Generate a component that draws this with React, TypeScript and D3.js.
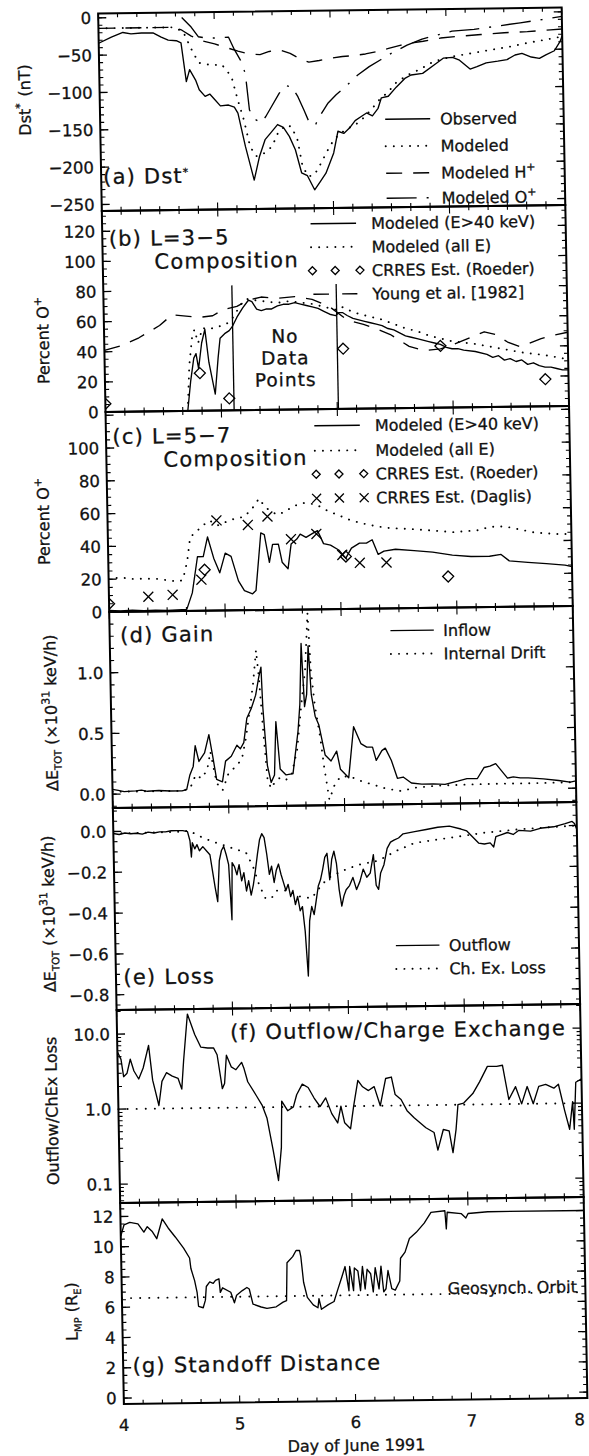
import * as d3 from "d3";

type Pt = [number, number];

// ---------------- data: [day of June 1991, value] ----------------
const dayTicks = [4, 5, 6, 7, 8];

// (a) Dst*
const dstTicks = [0, -50, -100, -150, -200, -250];
const dstObserved: Pt[] = [
  [4.0, -34], [4.11, -26], [4.21, -20], [4.28, -22], [4.37, -21], [4.47, -21], [4.54, -27], [4.6, -31],
  [4.67, -32], [4.71, -35], [4.75, -87], [4.78, -71], [4.83, -85], [4.86, -98], [4.91, -107], [4.95, -104],
  [4.99, -111], [5.04, -120], [5.11, -119], [5.16, -122], [5.19, -130], [5.25, -175], [5.32, -220],
  [5.37, -188], [5.42, -166], [5.47, -157], [5.53, -146], [5.58, -150], [5.63, -162], [5.68, -180],
  [5.73, -211], [5.78, -215], [5.84, -234], [5.89, -223], [5.94, -212], [6.01, -185], [6.05, -156],
  [6.1, -159], [6.15, -152], [6.2, -142], [6.25, -137], [6.3, -132], [6.35, -136], [6.4, -126],
  [6.43, -112], [6.49, -110], [6.56, -98], [6.64, -86], [6.69, -82], [6.79, -80], [6.89, -69], [6.97, -60],
  [7.05, -59], [7.11, -63], [7.2, -75], [7.26, -72], [7.34, -67], [7.44, -65], [7.52, -63], [7.59, -57],
  [7.65, -55], [7.73, -60], [7.8, -62], [7.86, -57], [7.93, -52], [7.98, -40], [8.0, -32],
];
const dstModeled: Pt[] = [
  [4.0, -14], [4.65, -14], [4.73, -20], [4.8, -44], [4.86, -62], [4.96, -65], [5.06, -65], [5.14, -81],
  [5.19, -112], [5.24, -139], [5.29, -175], [5.34, -188], [5.39, -186], [5.43, -182], [5.48, -175],
  [5.53, -158], [5.6, -147], [5.65, -149], [5.7, -167], [5.74, -203], [5.79, -216], [5.84, -214],
  [5.89, -201], [5.96, -181], [6.01, -168], [6.07, -159], [6.14, -152], [6.2, -148], [6.27, -139],
  [6.35, -126], [6.41, -115], [6.49, -104], [6.56, -92], [6.66, -82], [6.76, -75], [6.89, -64],
  [7.05, -58], [7.21, -54], [7.37, -50], [7.54, -46], [7.7, -41], [7.86, -37], [8.0, -33],
];
const dstModeledH: Pt[] = [
  [4.0, -14], [4.65, -14], [4.72, -18], [4.8, -26], [4.9, -33], [5.0, -37], [5.1, -42], [5.2, -47],
  [5.3, -51], [5.39, -52], [5.47, -48], [5.56, -46], [5.65, -51], [5.73, -58], [5.81, -63], [5.9, -61],
  [6.0, -58], [6.1, -56], [6.2, -55], [6.3, -53], [6.4, -50], [6.5, -46], [6.6, -42], [6.7, -39],
  [6.8, -37], [6.95, -33], [7.1, -31], [7.3, -29], [7.5, -27], [7.7, -26], [7.9, -24], [8.0, -23],
];
const dstModeledO: Pt[] = [
  [4.72, -1], [4.8, -14], [4.86, -27], [4.93, -29], [5.0, -29], [5.12, -28], [5.17, -45], [5.22, -59],
  [5.26, -77], [5.29, -126], [5.34, -139], [5.39, -143], [5.43, -135], [5.48, -122], [5.55, -104],
  [5.61, -94], [5.66, -96], [5.71, -109], [5.76, -127], [5.81, -146], [5.86, -146], [5.91, -132],
  [5.97, -118], [6.04, -107], [6.14, -94], [6.23, -81], [6.33, -70], [6.43, -61], [6.53, -52],
  [6.66, -42], [6.79, -34], [6.92, -29], [7.05, -24], [7.24, -22], [7.44, -18], [7.64, -14],
  [7.83, -10], [8.0, -6],
];

// (b) L=3-5 composition, percent O+
const pctTicksB = [0, 20, 40, 60, 80, 100, 120];
const noDataDays = [5.11, 6.01];
const bModeled40: Pt[] = [
  [4.0, 0], [4.71, 0], [4.74, 20], [4.77, 35], [4.79, 38], [4.81, 28], [4.84, 45], [4.87, 54], [4.9, 32],
  [4.95, 11], [4.98, 35], [5.0, 48], [5.04, 51], [5.08, 53], [5.11, 56], [5.15, 62], [5.2, 68], [5.25, 73],
  [5.28, 72], [5.32, 67], [5.36, 66], [5.4, 67], [5.45, 67], [5.5, 69], [5.55, 70], [5.6, 70], [5.65, 71],
  [5.7, 70], [5.75, 69], [5.8, 68], [5.85, 67], [5.9, 65], [5.95, 63], [6.0, 62], [6.03, 64], [6.06, 64],
  [6.1, 62], [6.15, 60], [6.2, 59], [6.25, 58], [6.3, 57], [6.35, 56], [6.4, 55], [6.45, 53], [6.5, 52],
  [6.55, 50], [6.6, 48], [6.65, 47], [6.7, 46], [6.75, 45], [6.8, 44], [6.85, 43], [6.9, 42], [6.95, 40],
  [7.0, 39], [7.05, 39], [7.1, 38], [7.2, 37], [7.3, 35], [7.35, 33], [7.4, 34], [7.45, 31], [7.5, 32],
  [7.55, 30], [7.6, 31], [7.65, 28], [7.7, 29], [7.75, 27], [7.8, 26], [7.85, 26], [7.9, 25], [7.95, 24],
  [8.0, 24],
];
const bModeledAll: Pt[] = [
  [4.71, 0], [4.73, 30], [4.76, 50], [4.78, 54], [4.81, 45], [4.85, 55], [4.9, 54], [4.95, 55], [5.0, 56],
  [5.05, 57], [5.1, 60], [5.15, 66], [5.2, 72], [5.25, 74], [5.3, 73], [5.4, 72], [5.5, 71], [5.6, 72],
  [5.7, 71], [5.8, 70], [5.9, 68], [6.0, 66], [6.05, 68], [6.1, 66], [6.2, 63], [6.3, 61], [6.4, 59],
  [6.5, 56], [6.6, 53], [6.7, 51], [6.8, 48], [6.9, 46], [7.0, 44], [7.2, 42], [7.4, 39], [7.6, 36],
  [7.8, 34], [8.0, 31],
];
const bRoeder: Pt[] = [[4.0, 5.5], [4.82, 25], [5.07, 8], [6.06, 40], [6.9, 41], [7.8, 18]];
const bYoung: Pt[] = [
  [4.0, 41], [4.15, 44], [4.3, 49], [4.48, 57], [4.59, 64], [4.71, 63], [4.82, 62], [4.94, 63], [5.03, 67],
  [5.15, 69], [5.25, 73], [5.36, 75], [5.5, 74], [5.65, 75], [5.8, 73], [5.95, 68], [6.1, 59], [6.24, 56],
  [6.35, 53], [6.47, 49], [6.63, 41], [6.76, 38], [6.9, 39], [7.02, 42], [7.18, 47], [7.28, 50], [7.38, 48],
  [7.48, 43], [7.58, 40], [7.67, 42], [7.77, 45], [7.87, 47], [8.0, 49],
];

// (c) L=5-7 composition
const pctTicksC = [0, 20, 40, 60, 80, 100];
const cModeled40: Pt[] = [
  [4.0, 1], [4.1, 0.5], [4.2, 1], [4.3, 0.5], [4.4, 0.8], [4.5, 0.5], [4.67, 1], [4.72, 11], [4.77, 33],
  [4.82, 33], [4.86, 45], [4.91, 32], [4.96, 23], [5.01, 35], [5.06, 33], [5.12, 18], [5.17, 12], [5.24, 10],
  [5.27, 12], [5.32, 47], [5.35, 46], [5.39, 29], [5.42, 40], [5.47, 40], [5.5, 29], [5.55, 25], [5.58, 40],
  [5.63, 43], [5.66, 46], [5.71, 44], [5.76, 46], [5.81, 48], [5.86, 40], [5.92, 39], [5.99, 36], [6.05, 31],
  [6.1, 37], [6.17, 40], [6.23, 40], [6.28, 42], [6.33, 33], [6.38, 35], [6.48, 36], [6.64, 35], [6.8, 34],
  [6.97, 32], [7.13, 31], [7.29, 31], [7.39, 32], [7.46, 28], [7.62, 27], [7.78, 26], [7.94, 25], [8.0, 24],
];
const cModeledAll: Pt[] = [
  [4.0, 20], [4.1, 21], [4.2, 20], [4.3, 20], [4.4, 20], [4.5, 19], [4.6, 18], [4.64, 19], [4.68, 30],
  [4.71, 45], [4.76, 48], [4.82, 52], [4.88, 55], [4.95, 52], [5.02, 54], [5.1, 56], [5.18, 57], [5.25, 62],
  [5.31, 68], [5.36, 63], [5.41, 60], [5.47, 58], [5.54, 60], [5.6, 63], [5.7, 65], [5.8, 64], [5.9, 60],
  [6.0, 57], [6.1, 54], [6.2, 52], [6.33, 50], [6.43, 49], [6.66, 48], [6.98, 46], [7.2, 47], [7.3, 49],
  [7.43, 49], [7.56, 47], [7.69, 45], [7.88, 44], [8.0, 44],
];
const cRoeder: Pt[] = [[4.0, 5], [4.83, 25], [6.05, 32], [6.93, 19]];
const cDaglis: Pt[] = [
  [4.34, 9], [4.55, 10], [4.8, 19], [4.94, 55], [5.21, 52], [5.38, 57], [5.58, 43], [5.8, 46], [6.02, 33],
  [6.17, 28], [6.4, 28],
];

// (d) Gain, x10^31 keV/h
const gainTicks = [0, 0.5, 1.0];
const gainInflow: Pt[] = [
  [4.0, 0.04], [4.05, 0.03], [4.1, 0.02], [4.2, 0.025], [4.25, 0.03], [4.3, 0.02], [4.4, 0.025], [4.5, 0.02],
  [4.6, 0.02], [4.64, 0.03], [4.67, 0.15], [4.7, 0.22], [4.72, 0.39], [4.75, 0.26], [4.8, 0.33], [4.84, 0.48],
  [4.87, 0.3], [4.9, 0.11], [4.95, 0.09], [4.98, 0.26], [5.03, 0.3], [5.08, 0.39], [5.11, 0.36], [5.14, 0.41],
  [5.17, 0.61], [5.21, 0.69], [5.25, 0.8], [5.28, 0.95], [5.3, 1.03], [5.31, 0.7], [5.34, 0.22], [5.37, 0.08],
  [5.4, 0.14], [5.42, 0.58], [5.45, 0.19], [5.5, 0.14], [5.56, 0.15], [5.61, 0.5], [5.63, 0.72], [5.65, 1.22],
  [5.67, 0.7], [5.69, 0.8], [5.71, 1.2], [5.73, 0.8], [5.76, 0.62], [5.79, 0.55], [5.84, 0.3], [5.89, 0.25],
  [5.94, 0.33], [5.97, 0.18], [6.04, 0.11], [6.09, 0.53], [6.15, 0.39], [6.2, 0.36], [6.25, 0.36],
  [6.28, 0.25], [6.33, 0.33], [6.36, 0.35], [6.41, 0.25], [6.46, 0.1], [6.51, 0.11], [6.58, 0.06],
  [6.67, 0.05], [6.77, 0.05], [6.87, 0.045], [6.98, 0.07], [7.06, 0.09], [7.15, 0.09], [7.21, 0.18],
  [7.26, 0.19], [7.31, 0.21], [7.36, 0.15], [7.41, 0.09], [7.46, 0.1], [7.52, 0.09], [7.59, 0.09],
  [7.72, 0.08], [7.85, 0.065], [7.95, 0.05], [8.0, 0.06],
];
const gainDrift: Pt[] = [
  [4.0, 0.02], [4.6, 0.02], [4.67, 0.04], [4.72, 0.15], [4.77, 0.12], [4.82, 0.19], [4.85, 0.34], [4.9, 0.08],
  [4.95, 0.02], [5.0, 0.15], [5.08, 0.23], [5.12, 0.27], [5.16, 0.45], [5.2, 0.7], [5.23, 0.9], [5.26, 1.17],
  [5.28, 0.95], [5.31, 0.5], [5.34, 0.1], [5.37, 0.03], [5.4, 0.08], [5.45, 0.12], [5.5, 0.1], [5.55, 0.15],
  [5.6, 0.35], [5.64, 0.7], [5.68, 1.0], [5.71, 1.47], [5.73, 1.0], [5.76, 0.7], [5.8, 0.45], [5.83, 0.2],
  [5.87, -0.07], [5.92, 0.06], [5.97, 0.12], [6.05, 0.12], [6.15, 0.08], [6.25, 0.05], [6.35, 0.02],
  [6.45, 0.0], [6.5, -0.005], [6.6, 0.02], [6.8, 0.035], [7.0, 0.04], [7.3, 0.045], [7.6, 0.045], [8.0, 0.05],
];

// (e) Loss
const lossTicks = [0, -0.2, -0.4, -0.6, -0.8];
const lossOutflow: Pt[] = [
  [4.0, -0.01], [4.05, -0.015], [4.1, -0.008], [4.15, -0.012], [4.2, -0.01], [4.25, -0.015], [4.3, -0.005],
  [4.35, -0.01], [4.4, -0.005], [4.45, -0.005], [4.5, 0.0], [4.55, 0.0], [4.6, 0.0], [4.64, -0.005],
  [4.66, -0.05], [4.67, -0.13], [4.68, -0.06], [4.7, -0.09], [4.72, -0.07], [4.74, -0.1], [4.77, -0.08],
  [4.8, -0.1], [4.83, -0.12], [4.85, -0.2], [4.87, -0.28], [4.89, -0.35], [4.91, -0.15], [4.93, -0.1],
  [4.95, -0.08], [4.97, -0.12], [4.99, -0.17], [5.01, -0.44], [5.02, -0.16], [5.04, -0.18], [5.06, -0.22],
  [5.08, -0.17], [5.1, -0.25], [5.12, -0.21], [5.14, -0.3], [5.16, -0.25], [5.18, -0.32], [5.2, -0.27],
  [5.22, -0.2], [5.24, -0.12], [5.26, -0.05], [5.28, -0.02], [5.3, -0.04], [5.32, -0.12], [5.34, -0.22],
  [5.36, -0.18], [5.38, -0.26], [5.4, -0.2], [5.42, -0.17], [5.44, -0.22], [5.46, -0.26], [5.48, -0.3],
  [5.5, -0.27], [5.52, -0.33], [5.54, -0.3], [5.56, -0.37], [5.58, -0.33], [5.6, -0.4], [5.62, -0.38],
  [5.64, -0.5], [5.66, -0.72], [5.68, -0.45], [5.7, -0.38], [5.72, -0.42], [5.74, -0.35], [5.76, -0.28],
  [5.78, -0.25], [5.8, -0.2], [5.82, -0.14], [5.84, -0.12], [5.86, -0.25], [5.88, -0.15], [5.9, -0.11],
  [5.92, -0.17], [5.94, -0.3], [5.96, -0.38], [5.98, -0.33], [6.0, -0.3], [6.03, -0.28], [6.06, -0.24],
  [6.09, -0.3], [6.12, -0.26], [6.15, -0.2], [6.18, -0.24], [6.21, -0.22], [6.24, -0.13], [6.26, -0.28],
  [6.28, -0.3], [6.3, -0.22], [6.33, -0.18], [6.36, -0.1], [6.39, -0.07], [6.42, -0.06], [6.46, -0.05],
  [6.5, -0.03], [6.6, -0.02], [6.7, -0.01], [6.8, 0.0], [6.9, 0.005], [7.0, -0.01], [7.05, -0.02],
  [7.1, -0.05], [7.15, -0.08], [7.2, -0.085], [7.25, -0.08], [7.28, -0.1], [7.3, -0.05], [7.35, -0.04],
  [7.4, -0.03], [7.45, -0.04], [7.5, -0.02], [7.6, -0.025], [7.7, -0.01], [7.8, -0.005], [7.9, 0.01],
  [7.96, 0.02], [7.98, 0.01], [8.0, -0.02],
];
const lossChEx: Pt[] = [
  [4.0, -0.01], [4.6, -0.005], [4.65, 0.0], [4.75, -0.03], [4.85, -0.055], [4.98, -0.08], [5.05, -0.095],
  [5.14, -0.11], [5.2, -0.18], [5.25, -0.27], [5.3, -0.335], [5.35, -0.34], [5.4, -0.3], [5.5, -0.3],
  [5.6, -0.33], [5.7, -0.34], [5.79, -0.275], [5.85, -0.24], [5.96, -0.21], [6.1, -0.18], [6.28, -0.16],
  [6.45, -0.11], [6.6, -0.075], [6.8, -0.06], [7.0, -0.045], [7.2, -0.03], [7.5, -0.015], [8.0, 0.0],
];

// (f) Outflow / charge exchange ratio
const ratioTicks = [0.1, 1, 10];
const ratio: Pt[] = [
  [4.0, 5.8], [4.03, 4.6], [4.05, 2.7], [4.08, 3.0], [4.11, 4.6], [4.14, 3.2], [4.18, 2.5], [4.22, 3.5],
  [4.27, 7.0], [4.3, 2.4], [4.35, 1.1], [4.38, 2.3], [4.42, 3.0], [4.47, 2.7], [4.52, 2.5], [4.55, 1.8],
  [4.57, 4.3], [4.61, 18], [4.67, 9.6], [4.72, 6.5], [4.78, 6.3], [4.83, 6.3], [4.86, 5.1], [4.9, 1.8],
  [4.92, 2.1], [4.94, 5], [4.98, 3.5], [5.02, 3.2], [5.07, 4], [5.09, 3.3], [5.12, 2.2], [5.19, 1.45],
  [5.24, 1.07], [5.28, 0.72], [5.33, 0.26], [5.37, 0.105], [5.4, 0.29], [5.41, 1.2], [5.46, 0.89],
  [5.51, 1.0], [5.54, 1.45], [5.59, 2.0], [5.64, 1.8], [5.69, 1.3], [5.74, 1.0], [5.79, 1.3], [5.84, 0.8],
  [5.89, 0.6], [5.92, 1.0], [5.95, 0.6], [6.0, 0.5], [6.03, 1.0], [6.07, 2.2], [6.11, 1.8], [6.16, 1.6],
  [6.21, 1.8], [6.26, 1.0], [6.31, 2.3], [6.36, 2.4], [6.39, 1.4], [6.44, 1.2], [6.49, 0.85], [6.55, 0.68],
  [6.65, 0.5], [6.72, 0.43], [6.75, 0.25], [6.8, 0.47], [6.85, 0.45], [6.88, 0.23], [6.91, 0.47],
  [6.93, 1.0], [6.98, 1.05], [7.06, 1.4], [7.12, 2.0], [7.19, 3.2], [7.27, 3.2], [7.32, 3.3], [7.37, 1.15],
  [7.43, 1.7], [7.48, 1.0], [7.53, 1.7], [7.58, 1.0], [7.63, 1.7], [7.69, 1.8], [7.76, 1.6], [7.8, 1.8],
  [7.85, 0.8], [7.89, 0.45], [7.92, 1.05], [7.93, 0.45], [7.95, 1.9], [8.0, 2.1],
];

// (g) Standoff distance, R_E
const lmpTicks = [0, 2, 4, 6, 8, 10, 12];
const geosynch = 6.6;
const lmp: Pt[] = [
  [4.0, 10.7], [4.03, 11.45], [4.08, 11.6], [4.15, 11.5], [4.2, 10.95], [4.23, 11.3], [4.27, 11.0],
  [4.31, 10.5], [4.36, 11.8], [4.41, 11.2], [4.47, 10.6], [4.54, 9.85], [4.59, 9.2], [4.6, 8.5], [4.63, 7.7],
  [4.65, 6.9], [4.66, 6.0], [4.7, 5.9], [4.72, 6.4], [4.73, 7.3], [4.76, 7.6], [4.79, 7.5], [4.81, 7.7],
  [4.84, 7.8], [4.85, 6.9], [4.87, 7.2], [4.94, 6.9], [4.97, 6.2], [4.99, 6.7], [5.04, 7.0], [5.08, 7.2],
  [5.1, 7.1], [5.13, 6.1], [5.2, 5.9], [5.25, 5.8], [5.33, 5.9], [5.39, 6.2], [5.42, 6.3], [5.43, 8.8],
  [5.48, 9.2], [5.51, 9.6], [5.54, 9.6], [5.55, 9.2], [5.57, 7.5], [5.6, 6.5], [5.65, 6.0], [5.69, 5.8],
  [5.7, 6.4], [5.72, 5.7], [5.78, 6.0], [5.83, 6.2], [5.86, 6.9], [5.9, 7.8], [5.93, 8.5], [5.96, 6.9],
  [5.97, 8.5], [6.0, 6.9], [6.01, 8.4], [6.04, 8.2], [6.06, 6.9], [6.08, 8.5], [6.1, 7.0], [6.12, 8.3],
  [6.15, 8.0], [6.17, 6.8], [6.19, 8.4], [6.22, 7.0], [6.24, 8.5], [6.26, 6.8], [6.28, 7.0], [6.3, 8.2],
  [6.33, 7.0], [6.36, 6.9], [6.4, 7.5], [6.41, 9.0], [6.45, 9.4], [6.49, 10.3], [6.55, 10.7], [6.62, 11.3],
  [6.68, 12.0], [6.8, 12.1], [6.81, 10.9], [6.82, 12.0], [6.94, 11.9], [6.98, 11.6], [7.0, 11.9],
  [7.17, 12.0], [8.0, 12.0],
];

// ---------------- layout ----------------
const W = 589;
const H = 1456;
const FONT = "'DejaVu Sans', sans-serif";
const XL = 111;
const XR = 574.5;
// the scanned page is slightly rotated
const PAGE = "matrix(1,-0.013,0.0185,1,-13.04,4.46)";
const DOT = "0.1 8";
const DASH = "16 11";
const DASHDOT = "30 10 2 10";

const x = d3.scaleLinear().domain([4, 8]).range([XL, XR]);

const minus = (v: number, digits = 0) =>
  (v < 0 ? "\u2212" : "") + Math.abs(v).toFixed(digits);

const panels: any = {
  a: { top: 10.5, bottom: 208, y: d3.scaleLinear().domain([-258.7, 5.8]).range([208, 10.5]),
       majors: dstTicks, fmt: (v: number) => minus(v), minors: d3.range(-250, 6, 10) },
  b: { top: 208, bottom: 409, y: d3.scaleLinear().domain([0, 133.5]).range([409, 208]),
       majors: pctTicksB, fmt: (v: number) => String(v), minors: d3.range(0, 134, 5) },
  c: { top: 409, bottom: 609, y: d3.scaleLinear().domain([0, 122]).range([609, 409]),
       majors: [...pctTicksC, 120], fmt: (v: number) => (v > 100 ? "" : String(v)), minors: d3.range(0, 122, 5) },
  d: { top: 609, bottom: 805, y: d3.scaleLinear().domain([-0.114, 1.5]).range([805, 609]),
       majors: gainTicks, fmt: (v: number) => v.toFixed(1), minors: d3.range(-0.1, 1.51, 0.1) },
  e: { top: 805, bottom: 1007, y: d3.scaleLinear().domain([-0.8745, 0.115]).range([1007, 805]),
       majors: lossTicks, fmt: (v: number) => minus(v, 1), minors: d3.range(-0.85, 0.11, 0.05) },
  f: { top: 1007, bottom: 1200, y: d3.scaleLog().domain([0.056, 20.96]).range([1200, 1007]),
       majors: ratioTicks, fmt: (v: number) => v.toFixed(1),
       minors: [0.06, 0.07, 0.08, 0.09, 0.2, 0.3, 0.4, 0.5, 0.6, 0.7, 0.8, 0.9, 2, 3, 4, 5, 6, 7, 8, 9, 20] },
  g: { top: 1200, bottom: 1401, y: d3.scaleLinear().domain([-0.39, 12.89]).range([1401, 1200]),
       majors: lmpTicks, fmt: (v: number) => String(v), minors: d3.range(0, 12.9, 0.5) },
};

// scanned text looks slightly heavy
const txt = { fontFamily: FONT, fill: "#111", stroke: "#111", strokeWidth: 0.3 };

function pathOf(p: any, data: Pt[]) {
  return d3.line<Pt>().x((d) => x(d[0])).y((d) => p.y(d[1]))(data) || "";
}

function Series({ id, data, dash, w = 1.35 }: any) {
  const p = panels[id];
  return (
    <path d={pathOf(p, data)} fill="none" stroke="#000" strokeWidth={dash === DOT ? 1.9 : w}
      strokeDasharray={dash} strokeLinecap={dash === DOT ? "round" : "butt"} strokeLinejoin="round"
      clipPath={`url(#clip-${id})`} />
  );
}

function Diamond({ cx, cy, r = 5.5 }: any) {
  return <path d={`M${cx},${cy - r}L${cx + r},${cy}L${cx},${cy + r}L${cx - r},${cy}Z`} fill="none" stroke="#000" strokeWidth={1.3} />;
}
function Cross({ cx, cy, r = 5 }: any) {
  return <path d={`M${cx - r},${cy - r}L${cx + r},${cy + r}M${cx - r},${cy + r}L${cx + r},${cy - r}`} fill="none" stroke="#000" strokeWidth={1.3} />;
}

function Frame({ id }: any) {
  const p = panels[id];
  const xMinor = d3.range(0, 25).map((i) => 4 + i / 6);
  return (
    <g>
      <clipPath id={`clip-${id}`}>
        <rect x={XL} y={p.top} width={XR - XL} height={p.bottom - p.top} />
      </clipPath>
      {xMinor.map((d, i) => {
        const len = i % 6 === 0 ? 7 : 4;
        return (
          <g key={i} stroke="#000" strokeWidth={1.1}>
            <line x1={x(d)} x2={x(d)} y1={p.top} y2={p.top + len} />
            <line x1={x(d)} x2={x(d)} y1={p.bottom} y2={p.bottom - len} />
          </g>
        );
      })}
      {p.minors.map((v: number, i: number) => (
        <g key={"m" + i} stroke="#000" strokeWidth={1.1}>
          <line x1={XL} x2={XL + 4} y1={p.y(v)} y2={p.y(v)} />
          <line x1={XR} x2={XR - 4} y1={p.y(v)} y2={p.y(v)} />
        </g>
      ))}
      {p.majors.map((v: number, i: number) => (
        <g key={"M" + i}>
          <line x1={XL} x2={XL + 8} y1={p.y(v)} y2={p.y(v)} stroke="#000" strokeWidth={1.3} />
          <line x1={XR} x2={XR - 8} y1={p.y(v)} y2={p.y(v)} stroke="#000" strokeWidth={1.3} />
          <text x={XL - 7} y={p.y(v) + 6} textAnchor="end" fontSize={16.5} {...txt}>{p.fmt(v)}</text>
        </g>
      ))}
      <rect x={XL} y={p.top} width={XR - XL} height={p.bottom - p.top} fill="none" stroke="#000" strokeWidth={2} />
    </g>
  );
}

function YTitle({ cx, cy, children }: any) {
  return (
    <text transform={`translate(${cx},${cy}) rotate(-90)`} textAnchor="middle" dy="0.35em" fontSize={16} {...txt}>
      {children}
    </text>
  );
}

function LegendRow({ x1, x2, tx, cy, dash, label, marker }: any) {
  return (
    <g>
      {marker === "diamond" && [x1 + 1, (x1 + x2) / 2 + 1, x2 + 3].map((mx, i) => <Diamond key={i} cx={mx} cy={cy} r={4} />)}
      {marker === "cross" && [x1 + 1, (x1 + x2) / 2 + 1, x2 + 3].map((mx, i) => <Cross key={i} cx={mx} cy={cy} r={4.5} />)}
      {!marker && (
        <line x1={x1} x2={x2} y1={cy} y2={cy} stroke="#000" strokeWidth={dash === DOT ? 1.9 : 1.4}
          strokeDasharray={dash} strokeLinecap={dash === DOT ? "round" : "butt"} />
      )}
      <text x={tx} y={cy + 6} fontSize={16} {...txt}>{label}</text>
    </g>
  );
}

const sup = (s: string) => [<tspan key="s1" dy={-7} fontSize={11}>{s}</tspan>, <tspan key="s2" dy={7}>{"\u200a"}</tspan>];

export default function App() {
  const b = panels.b;
  const gy = panels.g.y(geosynch);
  return (
    <svg width={W} height={H} viewBox={`0 0 ${W} ${H}`} style={{ position: "absolute", left: 0, top: 0, display: "block" }}>
      <rect width={W} height={H} fill="#fff" />
      <g transform={PAGE}>
        {["a", "b", "c", "d", "e", "f", "g"].map((id) => <Frame key={id} id={id} />)}

        {/* (a) Dst* */}
        <Series id="a" data={dstObserved} />
        <Series id="a" data={dstModeled} dash={DOT} />
        <Series id="a" data={dstModeledH} dash={DASH} />
        <Series id="a" data={dstModeledO} dash={DASHDOT} />
        <text x={113} y={181} fontSize={21} letterSpacing={1.2} {...txt}>(a) Dst{sup("*")}</text>
        <LegendRow x1={396} x2={441} tx={451} cy={120} label="Observed" />
        <LegendRow x1={396} x2={441} tx={451} cy={147} dash={DOT} label="Modeled" />
        <LegendRow x1={396} x2={441} tx={451} cy={174} dash={DASH} label={<>Modeled H{sup("+")}</>} />
        <LegendRow x1={396} x2={441} tx={451} cy={199} dash={DASHDOT} label={<>Modeled O{sup("+")}</>} />

        {/* (b) L=3-5 */}
        <Series id="b" data={bModeled40} />
        <Series id="b" data={bModeledAll} dash={DOT} />
        <Series id="b" data={bYoung} dash={DASH} />
        <g clipPath="url(#clip-b)">
          {bRoeder.map((d, i) => <Diamond key={i} cx={x(d[0])} cy={b.y(d[1])} />)}
        </g>
        {noDataDays.map((d) => (
          <line key={d} x1={x(d)} x2={x(d)} y1={b.y(0)} y2={b.y(83)} stroke="#000" strokeWidth={1.3} />
        ))}
        {["No", "Data", "Points"].map((s, i) => (
          <text key={s} x={x(d3.mean(noDataDays) as number)} y={342 + i * 21.8} textAnchor="middle" fontSize={18.5} letterSpacing={1} {...txt}>{s}</text>
        ))}
        <text x={117.5} y={243} fontSize={21} letterSpacing={1.2} {...txt}>(b) L=3{"\u2212"}5</text>
        <text x={162.7} y={266.5} fontSize={21} letterSpacing={1.2} {...txt}>Composition</text>
        <LegendRow x1={319.5} x2={365} tx={380} cy={223.5} label="Modeled (E>40 keV)" />
        <LegendRow x1={319.5} x2={365} tx={380} cy={247} dash={DOT} label="Modeled (all E)" />
        <LegendRow x1={319.5} x2={365} tx={380} cy={270.5} marker="diamond" label="CRRES Est. (Roeder)" />
        <LegendRow x1={321} x2={365} tx={380} cy={294} dash="15.6 13.2" label="Young et al. [1982]" />

        {/* (c) L=5-7 */}
        <Series id="c" data={cModeled40} />
        <Series id="c" data={cModeledAll} dash={DOT} />
        <g clipPath="url(#clip-c)">
          {cRoeder.map((d, i) => <Diamond key={i} cx={x(d[0])} cy={panels.c.y(d[1])} />)}
          {cDaglis.map((d, i) => <Cross key={i} cx={x(d[0])} cy={panels.c.y(d[1])} />)}
        </g>
        <text x={117.5} y={441} fontSize={21} letterSpacing={1.2} {...txt}>(c) L=5{"\u2212"}7</text>
        <text x={168} y={464.5} fontSize={21} letterSpacing={1.2} {...txt}>Composition</text>
        <LegendRow x1={319.5} x2={365} tx={380} cy={425.5} label="Modeled (E>40 keV)" />
        <LegendRow x1={319.5} x2={365} tx={380} cy={450.5} dash={DOT} label="Modeled (all E)" />
        <LegendRow x1={319.5} x2={365} tx={380} cy={474} marker="diamond" label="CRRES Est. (Roeder)" />
        <LegendRow x1={319.5} x2={365} tx={380} cy={498} marker="cross" label="CRRES Est. (Daglis)" />

        {/* (d) Gain */}
        <Series id="d" data={gainInflow} />
        <Series id="d" data={gainDrift} dash={DOT} />
        <text x={121.5} y={639.5} fontSize={21} letterSpacing={1.2} {...txt}>(d) Gain</text>
        <LegendRow x1={391.8} x2={435.2} tx={444.6} cy={631.3} label="Inflow" />
        <LegendRow x1={391.8} x2={435.2} tx={444.6} cy={654.6} dash={DOT} label="Internal Drift" />

        {/* (e) Loss */}
        <Series id="e" data={lossOutflow} />
        <Series id="e" data={lossChEx} dash={DOT} />
        <text x={118.5} y={981.5} fontSize={21} letterSpacing={1.2} {...txt}>(e) Loss</text>
        <LegendRow x1={391.4} x2={435} tx={444.4} cy={946.3} label="Outflow" />
        <LegendRow x1={391.4} x2={435} tx={444.4} cy={969.6} dash={DOT} label="Ch. Ex. Loss" />

        {/* (f) ratio */}
        <line x1={XL} x2={XR} y1={panels.f.y(1)} y2={panels.f.y(1)} stroke="#000" strokeWidth={1.9} strokeDasharray="0.1 9" strokeLinecap="round" />
        <Series id="f" data={ratio} />
        <text x={224} y={1038} fontSize={21} letterSpacing={1.2} {...txt}>(f) Outflow/Charge Exchange</text>

        {/* (g) standoff */}
        <line x1={XL} x2={XR} y1={gy} y2={gy} stroke="#000" strokeWidth={1.9} strokeDasharray="0.1 9" strokeLinecap="round" />
        <Series id="g" data={lmp} />
        <text x={566} y={gy} textAnchor="end" fontSize={16} {...txt}>Geosynch. Orbit</text>
        <text x={120.4} y={1370} fontSize={21} letterSpacing={1.2} {...txt}>(g) Standoff Distance</text>

        {/* x axis */}
        {dayTicks.map((d) => (
          <text key={d} x={d === 8 ? x(d) - 8 : x(d)} y={1428} textAnchor="middle" fontSize={16.5} {...txt}>{d}</text>
        ))}
        <text x={(XL + XR) / 2} y={1451} textAnchor="middle" fontSize={16} {...txt}>Day of June 1991</text>

        {/* y titles */}
        <YTitle cx={36} cy={96}>Dst{sup("*")} (nT)</YTitle>
        <YTitle cx={50} cy={336}>Percent O{sup("+")}</YTitle>
        <YTitle cx={47} cy={517}>Percent O{sup("+")}</YTitle>
        <YTitle cx={51} cy={709}>
          {"\u0394"}E<tspan dy={4} fontSize={10}>TOT</tspan><tspan dy={-4}>{"  (\u00d710"}</tspan>
          <tspan dy={-7} fontSize={11}>31</tspan><tspan dy={7}> keV/h)</tspan>
        </YTitle>
        <YTitle cx={45} cy={910}>
          {"\u0394"}E<tspan dy={4} fontSize={10}>TOT</tspan><tspan dy={-4}>{"  (\u00d710"}</tspan>
          <tspan dy={-7} fontSize={11}>31</tspan><tspan dy={7}> keV/h)</tspan>
        </YTitle>
        <YTitle cx={44.5} cy={1107}>Outflow/ChEx Loss</YTitle>
        <YTitle cx={60.5} cy={1308}>
          L<tspan dy={4} fontSize={10}>MP</tspan><tspan dy={-4}> (R</tspan><tspan dy={4} fontSize={10}>E</tspan><tspan dy={-4}>)</tspan>
        </YTitle>
      </g>
    </svg>
  );
}
